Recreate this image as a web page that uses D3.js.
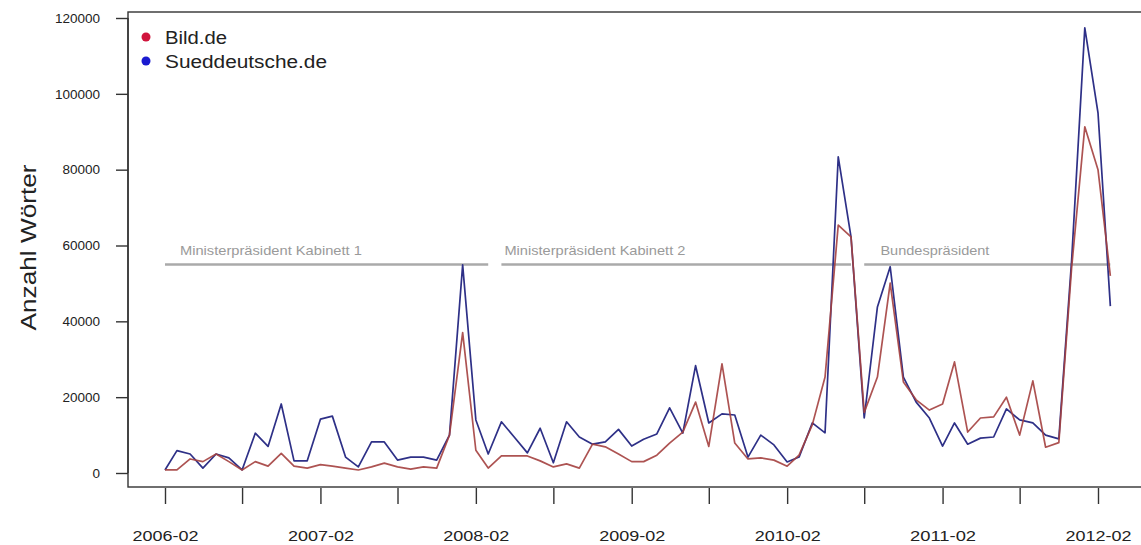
<!DOCTYPE html>
<html>
<head>
<meta charset="utf-8">
<script src="https://cdn.jsdelivr.net/npm/d3@7/dist/d3.min.js"></script>
<style>
  html, body { margin: 0; padding: 0; background: #fff; }
  svg { display: block; font-family: "Liberation Sans", Arial, Helvetica, sans-serif; }
</style>
</head>
<body>
<svg id="chart" width="1141" height="545"></svg>
<script>
// ---- data ----
const firstMonth = "2006-02";
const lastMonth = "2012-03";
const seriesNames = ["Bild.de", "Sueddeutsche.de"];
const bild = [
  800, 800, 3700, 3000, 5000, 3000, 800, 3000, 1800, 5200, 1800, 1300,
  2200, 1800, 1300, 800, 1600, 2600, 1600, 1000, 1600, 1300, 10000, 37000,
  6000, 1300, 4500, 4500, 4500, 3200, 1600, 2400, 1300, 7600, 6900, 5000,
  3000, 3000, 4700, 7900, 10800, 18700, 7000, 28800, 7900, 3700, 4000, 3400,
  1800, 4700, 12700, 25300, 65400, 62300, 16000, 25300, 50100, 24000, 19300, 16600,
  18200, 29300, 10800, 14500, 14800, 20000, 10000, 24300, 6800, 8000, 54000, 91300,
  80000, 52000
];
const sueddeutsche = [
  800, 5900, 5000, 1300, 5000, 4000, 800, 10500, 7000, 18200, 3200, 3200,
  14200, 15000, 4200, 1600, 8200, 8200, 3400, 4200, 4200, 3400, 10000, 54900,
  14000, 5000, 13500, 9500, 5300, 11800, 2700, 13500, 9500, 7600, 8200, 11500,
  7100, 8900, 10300, 17200, 10500, 28300, 13200, 15600, 15300, 4200, 10000, 7400,
  2900, 4200, 13200, 10600, 83400, 62300, 14500, 43800, 54400, 25300, 18700, 14500,
  7100, 13200, 7600, 9200, 9500, 16900, 14000, 13200, 10000, 9000, 56000, 117400,
  95000, 44000
];
const yTicks = [0, 20000, 40000, 60000, 80000, 100000, 120000];
const xTickMonths = ["2006-02","2006-08","2007-02","2007-08","2008-02","2008-08","2009-02",
                     "2009-08","2010-02","2010-08","2011-02","2011-08","2012-02"];
const xTickLabels = ["2006-02","2007-02","2008-02","2009-02","2010-02","2011-02","2012-02"];
const periodNames = ["Ministerpräsident Kabinett 1", "Ministerpräsident Kabinett 2", "Bundespräsident"];
const periodStart = ["2006-02", "2008-04", "2010-08"];
const periodEnd = ["2008-03", "2010-07", "2012-03"];
const periodLabelAt = ["2006-03", "2008-04", "2010-09"];
const periodLevel = 55000;

// ---- setup ----
const parse = d3.timeParse("%Y-%m");
const months = d3.timeMonth.range(parse(firstMonth), d3.timeMonth.offset(parse(lastMonth), 1));

const svg = d3.select("#chart");
const x = d3.scaleTime().domain([parse("2006-02"), parse("2012-02")]).range([165, 1098]);
const y = d3.scaleLinear().domain([0, 120000]).range([473, 18]);

const box = { left: 128, top: 12, right: 1143, bottom: 487 };
const colBild = "#a4403f";
const colSz = "#2e3087";
const fontFam = "'Liberation Sans', Arial, sans-serif";

// plot box
svg.append("rect")
  .attr("x", box.left).attr("y", box.top)
  .attr("width", box.right - box.left).attr("height", box.bottom - box.top)
  .attr("fill", "none").attr("stroke", "#333").attr("stroke-width", 1.4);

// y axis (R style: line over tick range)
const yAxis = d3.axisLeft(y).tickValues(yTicks).tickSize(12).tickPadding(16).tickFormat(d3.format("d"));
const gy = svg.append("g").attr("transform", `translate(${box.left},0)`).call(yAxis);
gy.select(".domain").attr("stroke", "#333").attr("stroke-width", 1.4).attr("d", `M0,${y(0)}V${y(120000)}`);
gy.selectAll(".tick line").attr("stroke", "#333").attr("stroke-width", 1.4);
gy.selectAll(".tick text").attr("font-size", 13.5).attr("fill", "#222").attr("font-family", fontFam);

// x axis
const xAxis = d3.axisBottom(x).tickValues(xTickMonths.map(parse)).tickSize(16).tickPadding(27)
  .tickFormat(d => { const s = d3.timeFormat("%Y-%m")(d); return xTickLabels.includes(s) ? s : ""; });
const gx = svg.append("g").attr("transform", `translate(0,${box.bottom + 1})`).call(xAxis);
gx.select(".domain").remove();
gx.selectAll(".tick line").attr("stroke", "#333").attr("stroke-width", 1.4);
gx.selectAll(".tick text").attr("font-size", 14).attr("fill", "#222").attr("font-family", fontFam)
  .filter(function() { return this.textContent !== ""; })
  .attr("textLength", 66).attr("lengthAdjust", "spacingAndGlyphs");

// y axis title
svg.append("text")
  .attr("transform", `translate(36,${(y(0) + y(120000)) / 2 + 2}) rotate(-90)`)
  .attr("text-anchor", "middle")
  .attr("font-size", 22).attr("fill", "#222")
  .attr("textLength", 166).attr("lengthAdjust", "spacingAndGlyphs")
  .text("Anzahl Wörter");

// period lines
const periodWidths = [182, 181, 109];
periodNames.forEach((name, i) => {
  svg.append("line")
    .attr("x1", x(parse(periodStart[i]))).attr("x2", x(parse(periodEnd[i])))
    .attr("y1", y(periodLevel)).attr("y2", y(periodLevel))
    .attr("stroke", "#aaaaaa").attr("stroke-width", 2.6);
  svg.append("text")
    .attr("x", x(parse(periodLabelAt[i])) + 3)
    .attr("y", y(periodLevel) - 9)
    .attr("font-size", 13).attr("fill", "#9a9a9a")
    .attr("textLength", periodWidths[i]).attr("lengthAdjust", "spacingAndGlyphs")
    .text(name);
});

// lines
const line = vals => d3.line().x((d, i) => x(months[i])).y(d => y(d))(vals);
svg.append("path").attr("d", line(sueddeutsche))
  .attr("fill", "none").attr("stroke", colSz).attr("stroke-width", 1.7).attr("stroke-linejoin", "round");
svg.append("path").attr("d", line(bild))
  .attr("fill", "none").attr("stroke", colBild).attr("stroke-width", 1.7).attr("stroke-linejoin", "round")
  .attr("opacity", 0.9);

// legend
const legendColors = ["#d0143c", "#1a1ad0"];
const legendWidths = [62, 162];
seriesNames.forEach((name, i) => {
  const cy = 37 + i * 24;
  svg.append("circle").attr("cx", 146).attr("cy", cy).attr("r", 4.5).attr("fill", legendColors[i]);
  svg.append("text").attr("x", 165).attr("y", cy + 6.5)
    .attr("font-size", 18).attr("fill", "#222")
    .attr("textLength", legendWidths[i]).attr("lengthAdjust", "spacingAndGlyphs")
    .text(name);
});
</script>
</body>
</html>
